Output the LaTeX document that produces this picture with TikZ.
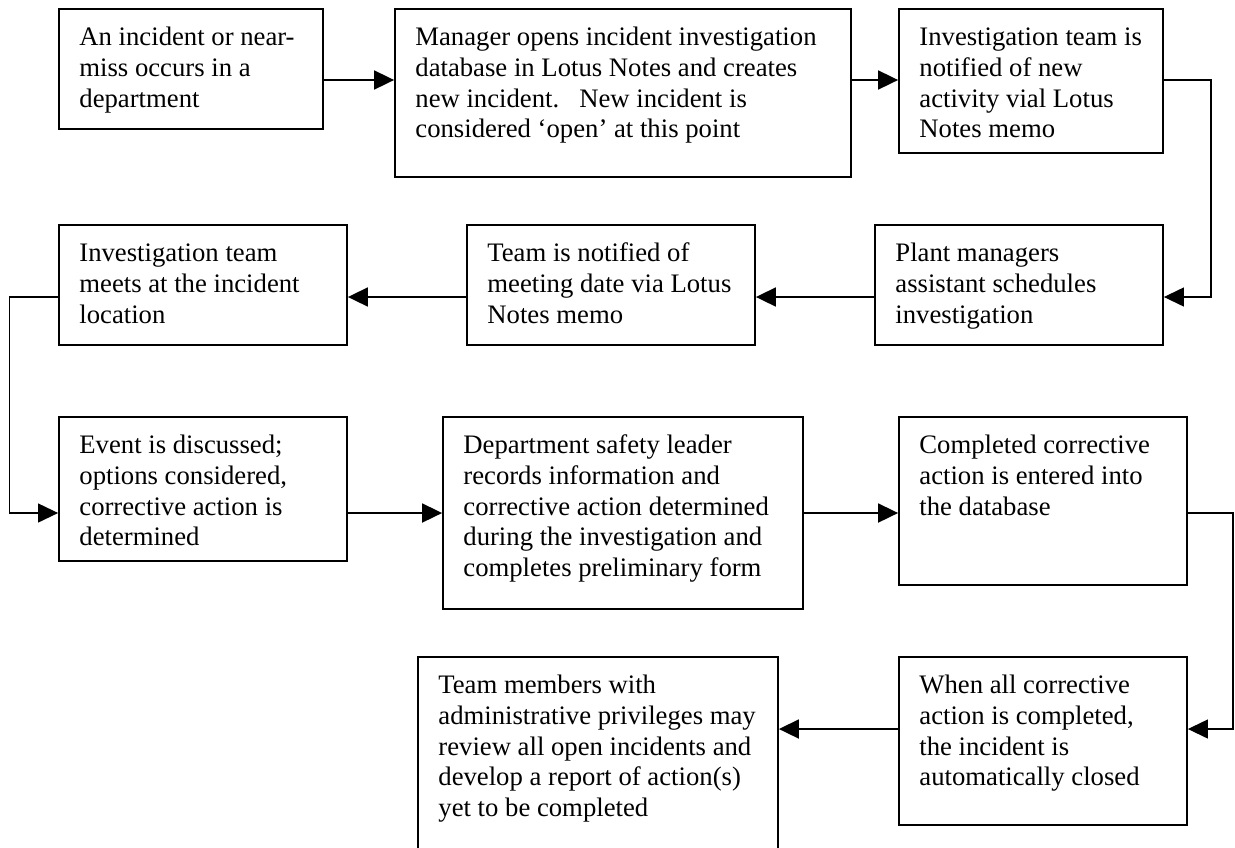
\documentclass[tikz,border=0pt]{standalone}
\usepackage{fontspec}
\setmainfont{Liberation Serif}
\usetikzlibrary{arrows.meta}
\tikzset{
  box/.style={draw=black, line width=0.9pt, rectangle, inner sep=0pt, fill=white},
  txt/.style={anchor=north west, inner sep=0pt, align=left, font=\fontsize{13.35pt}{15.4pt}\selectfont},
  arr/.style={line width=0.9pt, -{Triangle[length=10pt,width=9.5pt]}},
  route/.style={line width=0.6pt, -{Triangle[length=10pt,width=9.5pt]}}
}
\newcommand\mybox[6]{%
  \node[box, minimum width={(#4-#2)*0.5pt}, minimum height={(#5-#3)*0.5pt}] (#1) at ({(#2+#4)/2},{(#3+#5)/2}) {};
  \node[txt] (#1t) at ({#2+20},{#3+14.5}) {\strut #6};
}
\begin{document}
\begin{tikzpicture}[x=0.5pt,y=-0.5pt]
\fill[white] (0,0) rectangle (1235,847);
\useasboundingbox (0,0) rectangle (1235,847);
\begin{scope}
\clip (0,0) rectangle (1235,847);
% row 1
\mybox{a}{59}{9}{323}{129}{An incident or near-\\miss occurs in a\\department}
\mybox{b}{395}{9}{851}{177}{Manager opens incident investigation\\database in Lotus Notes and creates\\new incident.\ \ \ New incident is\\considered ‘open’ at this point}
\mybox{c}{899}{9}{1163}{153}{Investigation team is\\notified of new\\activity vial Lotus\\Notes memo}
% row 2
\mybox{plant}{875}{225}{1163}{345}{Plant managers\\assistant schedules\\investigation}
\mybox{tn}{467}{225}{755}{345}{Team is notified of\\meeting date via Lotus\\Notes memo}
\mybox{meets}{59}{225}{347}{345}{Investigation team\\meets at the incident\\location}
% row 3
\mybox{event}{59}{417}{347}{561}{Event is discussed;\\options considered,\\corrective action is\\determined}
\mybox{dept}{443}{417}{803}{609}{Department safety leader\\records information and\\corrective action determined\\during the investigation and\\completes preliminary form}
\mybox{comp}{899}{417}{1187}{585}{Completed corrective\\action is entered into\\the database}
% row 4
\mybox{when}{899}{657}{1187}{825}{When all corrective\\action is completed,\\the incident is\\automatically closed}
\mybox{tm}{418}{657}{778}{880}{Team members with\\administrative privileges may\\review all open incidents and\\develop a report of action(s)\\yet to be completed}
% routing levels
\coordinate (y1) at (0,80);
\coordinate (y2) at (0,297);
\coordinate (y3) at (0,513);
\coordinate (y4) at (0,729);
\coordinate (xL) at (9.5,0);
\coordinate (xR1) at (1211,0);
\coordinate (xR2) at (1233,0);
% connectors
\draw[arr] (a.east |- y1) -- (b.west |- y1);
\draw[arr] (b.east |- y1) -- (c.west |- y1);
\draw[route] (c.east |- y1) -| (xR1 |- y2) -- (plant.east |- y2);
\draw[arr] (plant.west |- y2) -- (tn.east |- y2);
\draw[arr] (tn.west |- y2) -- (meets.east |- y2);
\draw[route] (meets.west |- y2) -| (xL |- y3) -- (event.west |- y3);
\draw[arr] (event.east |- y3) -- (dept.west |- y3);
\draw[arr] (dept.east |- y3) -- (comp.west |- y3);
\draw[route] (comp.east |- y3) -| (xR2 |- y4) -- (when.east |- y4);
\draw[arr] (when.west |- y4) -- (tm.east |- y4);
\end{scope}
\end{tikzpicture}
\end{document}
